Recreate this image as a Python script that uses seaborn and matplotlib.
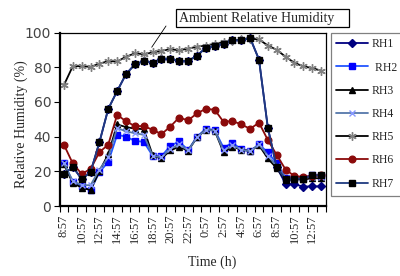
import matplotlib
matplotlib.use('Agg')
import matplotlib.pyplot as plt
import matplotlib.patches as patches
import seaborn as sns
import numpy as np

# hourly readings, 8:57 on day 1 to 13:57 on day 2
times = ['8:57', '9:57', '10:57', '11:57', '12:57', '13:57', '14:57', '15:57',
         '16:57', '17:57', '18:57', '19:57', '20:57', '21:57', '22:57', '23:57',
         '0:57', '1:57', '2:57', '3:57', '4:57', '5:57', '6:57', '7:57',
         '8:57', '9:57', '10:57', '11:57', '12:57', '13:57']

rh1 = [18.3, 22.6, 15.5, 19.5, 36.7, 56.0, 66.2, 76.0, 81.6, 83.5,
       82.6, 84.9, 84.9, 83.5, 83.5, 86.7, 91.1, 92.2, 93.6, 95.6,
       95.6, 96.8, 84.4, 45.0, 22.3, 12.8, 12.5, 11.2, 11.3, 11.3]
rh2 = [24.8, 13.8, 11.3, 9.0, 19.5, 25.4, 41.0, 40.0, 37.5, 37.0,
       29.0, 28.6, 34.7, 37.2, 32.2, 39.9, 44.5, 43.8, 33.6, 36.4,
       32.8, 31.7, 35.5, 30.9, 24.6, 16.3, 16.3, 16.3, 17.8, 17.5]
rh3 = [24.0, 13.2, 10.6, 9.2, 20.0, 29.9, 47.0, 45.5, 44.6, 44.3,
       29.4, 27.4, 32.0, 34.2, 31.8, 39.5, 44.0, 43.5, 30.9, 34.1,
       32.5, 31.7, 35.0, 27.4, 21.7, 15.0, 15.3, 15.3, 16.0, 16.0]
rh4 = [24.5, 14.5, 12.0, 12.0, 21.0, 28.0, 45.0, 43.0, 42.0, 41.0,
       29.0, 28.0, 33.0, 35.5, 32.0, 39.5, 44.0, 43.5, 32.0, 35.0,
       32.5, 31.5, 35.5, 29.0, 23.0, 16.0, 16.0, 16.0, 17.0, 17.0]
rh5 = [69.7, 80.6, 80.6, 80.2, 82.0, 83.5, 83.3, 86.0, 88.0, 87.5,
       88.5, 89.5, 90.3, 89.8, 90.7, 91.8, 92.5, 93.5, 94.5, 95.3,
       96.0, 96.5, 96.0, 92.5, 90.0, 86.0, 82.5, 80.5, 79.5, 78.0]
rh6 = [35.3, 24.5, 18.5, 21.3, 31.0, 35.4, 52.6, 48.8, 46.1, 46.0,
       44.0, 41.4, 45.8, 51.0, 49.3, 53.4, 56.0, 55.5, 48.5, 49.0,
       47.0, 44.5, 48.0, 38.0, 29.4, 21.0, 17.2, 16.8, 17.4, 18.0]
rh7 = [18.3, 22.6, 15.5, 19.5, 36.7, 56.0, 66.2, 76.0, 81.6, 83.5,
       82.6, 84.9, 84.9, 83.5, 83.5, 86.7, 91.1, 92.2, 93.6, 95.6,
       95.6, 96.8, 84.4, 45.0, 22.3, 15.3, 15.7, 15.7, 17.7, 17.7]

series = [
    ('RH1', rh1, '#000080', 'D', '#000080', '#000080', 4),
    (' RH2', rh2, '#2255FF', 's', '#0000FF', '#0000FF', 4.8),
    ('RH3', rh3, '#000000', '^', '#000000', '#000000', 4.8),
    ('RH4', rh4, '#5577AA', 'x', '#8899FF', '#8899FF', 4),
    ('RH5', rh5, '#000000', (6, 2, 0), '#808080', '#808080', 6),
    ('RH6', rh6, '#8B0A0A', 'o', '#8B0A0A', '#8B0A0A', 4.8),
    ('RH7', rh7, '#1F3A80', 's', '#000000', '#000000', 4.8),
]

sns.set_style('ticks')
plt.rcParams['font.family'] = ['Liberation Serif', 'DejaVu Serif']

fig = plt.figure(figsize=(4, 2.76), dpi=100)
ax = fig.add_axes([59.5 / 400, 1 - 206 / 276, 266 / 400, 173.5 / 276])

x = np.arange(len(times))
for name, vals, lc, mk, mfc, mec, ms in series:
    sns.lineplot(x=x, y=vals, ax=ax, color=lc, lw=1.3, marker=mk, markersize=ms,
                 markerfacecolor=mfc, markeredgecolor=mec, markeredgewidth=1,
                 label=name)

ax.set_xlim(-0.5, len(times) - 0.5)
ax.set_ylim(0, 100)
ax.set_xticks(x[::2])
ax.set_xticklabels(times[::2], rotation=90, fontsize=9)
ax.set_xticks(np.arange(-0.5, len(times), 1), minor=True)
ax.tick_params(axis='x', which='major', length=0, pad=6)
ax.tick_params(axis='x', which='minor', length=4, width=0.8, direction='out', color='black')
ax.set_yticks([0, 20, 40, 60, 80, 100])
ax.tick_params(axis='y', length=4, width=0.8, pad=2, color='black')
for t in ax.get_yticklabels():
    t.set_family('DejaVu Sans')
    t.set_fontsize(10)
    t.set_color('#444444')

for s in ['left', 'bottom']:
    ax.spines[s].set_linewidth(1.6)
for s in ['top', 'right']:
    ax.spines[s].set_linewidth(0.9)
for s in ax.spines.values():
    s.set_color('black')

ax.set_xlabel('')
ax.set_ylabel('')
fig.text(21 / 400, 1 - 124 / 276, 'Relative Humidity (%)', rotation=90,
         ha='center', va='center', fontsize=10)
fig.text(212 / 400, 1 - 262 / 276, 'Time (h)', ha='center', va='center', fontsize=10)

leg = ax.legend(loc='upper left', bbox_to_anchor=(330.5 / 400, 1 - 32.5 / 276),
                bbox_transform=fig.transFigure, borderaxespad=0, fancybox=False,
                edgecolor='#808080', framealpha=1, fontsize=8.5, handlelength=2.7,
                labelspacing=0.95, handletextpad=0.3, borderpad=0.5)
leg.get_frame().set_linewidth(0.9)

# callout for the ambient series
fig.add_artist(patches.Rectangle((176 / 400, 1 - 27.3 / 276), 173 / 400, 18 / 276,
                                 transform=fig.transFigure, facecolor='white',
                                 edgecolor='black', lw=0.9))
fig.text(179 / 400, 1 - 18.3 / 276, 'Ambient Relative Humidity', ha='left',
         va='center', fontsize=10)
ax.annotate('', xy=(9.9, 91.5), xytext=(166 / 400, 1 - 26 / 276),
            textcoords='figure fraction',
            arrowprops=dict(arrowstyle='-', lw=0.6, color='black', shrinkA=0, shrinkB=0))

fig.savefig('out.png', dpi=100, facecolor='white')
